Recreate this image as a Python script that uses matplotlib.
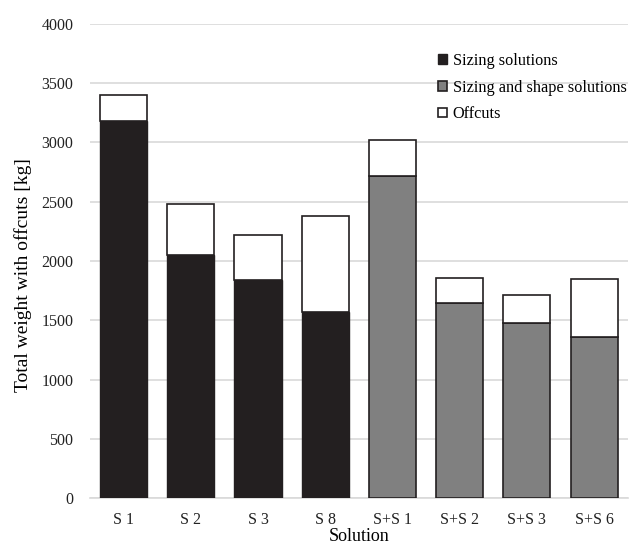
import matplotlib.pyplot as plt
import numpy as np

plt.rcParams['font.family'] = ['Liberation Serif', 'DejaVu Serif']

sizing_labels = ['S 1', 'S 2', 'S 3', 'S 8']
sizing_weight = [3185, 2050, 1840, 1572]
sizing_total = [3400, 2480, 2220, 2380]

shape_labels = ['S+S 1', 'S+S 2', 'S+S 3', 'S+S 6']
shape_weight = [2720, 1650, 1475, 1358]
shape_total = [3020, 1860, 1713, 1846]

labels = sizing_labels + shape_labels
base = np.array(sizing_weight + shape_weight)
total = np.array(sizing_total + shape_total)
offcuts = total - base

edge = '#231f20'
x = np.arange(len(labels))
n1 = len(sizing_labels)

fig = plt.figure(figsize=(6.29, 5.48), dpi=100)
ax = fig.add_axes([0.143, 0.0905, 0.855, 0.866])

ax.bar(x[:n1], base[:n1], width=0.7, color=edge, edgecolor=edge, linewidth=1,
       label='Sizing solutions', zorder=3)
ax.bar(x[n1:], base[n1:], width=0.7, color='#808080', edgecolor=edge, linewidth=1.2,
       label='Sizing and shape solutions', zorder=3)
ax.bar(x, offcuts, bottom=base, width=0.7, color='white', edgecolor=edge, linewidth=1.2,
       label='Offcuts', zorder=3)

ax.set_xlim(-0.5, len(labels) - 0.5)
ax.set_ylim(0, 4000)
ax.set_yticks(np.arange(0, 4001, 500))
ax.set_xticks(x)
ax.set_xticklabels(labels)
ax.yaxis.grid(True, color='#d9d9d9', linewidth=1.2, zorder=0)
ax.set_axisbelow(True)
for s in ['top', 'right', 'left']:
    ax.spines[s].set_visible(False)
ax.spines['bottom'].set_color('#d9d9d9')
ax.spines['bottom'].set_linewidth(1.2)
ax.tick_params(length=0, labelsize=11.5, colors='#222222')
ax.tick_params(axis='x', pad=10)
ax.tick_params(axis='y', pad=12)

ax.set_ylabel('Total weight with offcuts [kg]', fontsize=14)
ax.yaxis.set_label_coords(-0.107, 0.47)
ax.set_xlabel('Solution', fontsize=13)
ax.xaxis.set_label_coords(0.5, -0.062)

ax.legend(loc='upper left', bbox_to_anchor=(0.635, 0.952), frameon=False,
          fontsize=11.7, handlelength=0.55, handleheight=0.55, handletextpad=0.35,
          labelspacing=0.65, borderaxespad=0)

fig.savefig('out.png', dpi=100)
